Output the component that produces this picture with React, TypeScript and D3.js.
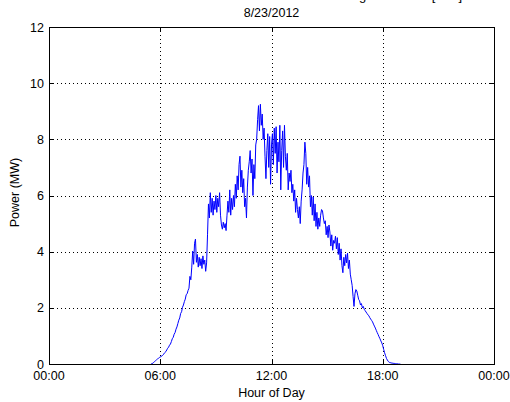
import React from "react";
import * as d3 from "d3";

// Chart text
const titleTop = "Solar Farm Average Net Total [MW]";
const titleDate = "8/23/2012";
const xLabel = "Hour of Day";
const yLabel = "Power (MW)";

// Axis ticks
const xTickHours = [0, 6, 12, 18, 24];
const xTickLabels = ["00:00", "06:00", "12:00", "18:00", "00:00"];
const yTicks = [0, 2, 4, 6, 8, 10, 12];

// Power series: samples every 3 minutes starting at 05:30
const startHour = 5.5;
const stepHours = 0.05;
const powerMW = [
  // 05:30 - 06:00
  0, 0.01, 0.03, 0.06, 0.09, 0.12, 0.15, 0.18, 0.2, 0.23,
  // 06:00 - 07:00
  0.25, 0.27, 0.29, 0.33, 0.36, 0.41, 0.44, 0.5, 0.56, 0.6,
  0.67, 0.71, 0.8, 0.9, 0.95, 1.06, 1.12, 1.24, 1.32, 1.44,
  // 07:00 - 08:00
  1.56, 1.64, 1.8, 1.86, 2.02, 2.1, 2.22, 2.31, 2.47, 2.5,
  2.62, 2.7, 3.12, 3.0, 3.45, 4.02, 3.55, 4.3, 4.45, 3.62,
  // 08:00 - 09:00
  3.9, 3.45, 3.8, 3.5, 3.75, 3.4, 3.85, 3.55, 3.7, 3.3,
  3.6, 4.6, 5.7, 5.2, 6.1, 5.4, 5.9, 5.3, 5.8, 5.5,
  // 09:00 - 10:00
  6.0, 5.4, 5.9, 5.6, 6.1, 5.3, 4.95, 4.8, 5.05, 4.85,
  5.0, 4.75, 5.3, 5.8, 5.4, 6.2, 5.3, 5.9, 5.5, 6.0,
  // 10:00 - 11:00
  5.6, 6.4, 5.9, 6.7, 6.2, 7.1, 7.4, 6.3, 6.9, 6.1,
  6.6, 5.6, 5.9, 5.2, 6.3, 6.9, 7.2, 7.6, 6.8, 7.3,
  // 11:00 - 12:00
  6.0, 7.1, 6.6, 7.8, 8.0, 8.7, 9.2, 8.3, 9.25, 8.5,
  8.9, 8.0, 8.4, 7.4, 6.6, 7.6, 8.2, 7.0, 8.1, 6.4,
  // 12:00 - 13:00
  7.8, 8.2, 7.1, 8.4, 7.5, 8.45, 6.8, 7.9, 7.2, 8.5,
  6.2, 7.6, 8.3, 7.0, 8.5, 7.4, 6.9, 7.5, 6.2, 6.8,
  // 13:00 - 14:00
  6.5, 6.9, 6.1, 6.4, 5.8, 6.2, 5.4, 5.9, 5.5, 5.2,
  5.6, 5.0, 5.8, 6.2, 6.8, 7.1, 7.9, 7.5, 6.4, 7.0,
  // 14:00 - 15:00
  6.3, 6.7, 5.6, 6.0, 5.3, 5.95, 5.1, 5.7, 4.9, 5.4,
  4.8, 5.2, 4.9, 5.3, 5.5, 5.45, 5.2, 5.0, 5.1, 4.6,
  // 15:00 - 16:00
  4.9, 4.5, 4.95, 4.7, 4.2, 4.6, 4.05, 4.4, 4.3, 4.55,
  4.1, 4.5, 3.9, 4.3, 3.7, 4.1, 3.5, 3.25, 3.8, 3.5,
  // 16:00 - 17:00
  3.9, 3.6, 3.95, 3.4, 3.7, 3.2, 3.0, 2.8, 2.4, 2.05,
  2.5, 2.65, 2.6, 2.45, 2.3, 2.25, 2.1, 2.15, 2.0, 2.05,
  // 17:00 - 18:00
  1.95, 1.9, 1.85, 1.8, 1.75, 1.72, 1.65, 1.6, 1.55, 1.5,
  1.42, 1.35, 1.28, 1.2, 1.12, 1.05, 0.97, 0.9, 0.82, 0.75,
  // 18:00 - 19:00
  0.65, 0.52, 0.4, 0.3, 0.2, 0.14, 0.09, 0.06, 0.05, 0.04,
  0.03, 0.03, 0.02, 0.02, 0.01, 0.01, 0.01, 0.0, 0.0, 0.0,
];

const W = 510;
const H = 402;
const left = 49;
const right = 494;
const top = 27;
const bottom = 364;
const font = "'Liberation Sans', Arial, Helvetica, sans-serif";
const fs = 12.5;

export default function App() {
  const x = d3.scaleLinear().domain([0, 24]).range([left, right]);
  const y = d3.scaleLinear().domain([0, 12]).range([bottom, top]);

  const points: [number, number][] = powerMW.map((v, i) => [startHour + i * stepHours, v]);
  const line = d3
    .line<[number, number]>()
    .x((d) => x(d[0]))
    .y((d) => y(d[1]));

  const tickLen = 4;

  return (
    <svg
      width={W}
      height={H}
      style={{ position: "absolute", left: 0, top: 0, background: "#fff", display: "block" }}
    >
      <rect x={0} y={0} width={W} height={H} fill="#fff" />
      {/* upper title, cropped at the top edge as in the source image */}
      <text x={462} y={-0.5} textAnchor="end" fontFamily={font} fontSize={13} fill="#000">
        {titleTop}
      </text>
      <text x={(left + right) / 2} y={17} textAnchor="middle" fontFamily={font} fontSize={fs} fill="#000">
        {titleDate}
      </text>

      {/* grid */}
      <g stroke="#000" strokeWidth={1} strokeDasharray="1,3" fill="none">
        {xTickHours.slice(1, -1).map((h) => (
          <line key={"gx" + h} x1={Math.round(x(h)) + 0.5} x2={Math.round(x(h)) + 0.5} y1={top} y2={bottom} />
        ))}
        {yTicks.slice(1, -1).map((v) => (
          <line key={"gy" + v} x1={left} x2={right} y1={Math.round(y(v)) + 0.5} y2={Math.round(y(v)) + 0.5} />
        ))}
      </g>

      {/* data */}
      <path d={line(points) || ""} fill="none" stroke="#0000ff" strokeWidth={1} strokeLinejoin="round" />

      {/* box */}
      <rect
        x={left + 0.5}
        y={top + 0.5}
        width={right - left}
        height={bottom - top}
        fill="none"
        stroke="#000"
        strokeWidth={1}
      />
      {/* ticks */}
      <g stroke="#000" strokeWidth={1}>
        {xTickHours.map((h, i) => (
          <g key={"tx" + i}>
            <line x1={Math.round(x(h)) + 0.5} x2={Math.round(x(h)) + 0.5} y1={bottom} y2={bottom - tickLen} />
            <line x1={Math.round(x(h)) + 0.5} x2={Math.round(x(h)) + 0.5} y1={top} y2={top + tickLen} />
          </g>
        ))}
        {yTicks.map((v) => (
          <g key={"ty" + v}>
            <line x1={left} x2={left + tickLen} y1={Math.round(y(v)) + 0.5} y2={Math.round(y(v)) + 0.5} />
            <line x1={right} x2={right - tickLen} y1={Math.round(y(v)) + 0.5} y2={Math.round(y(v)) + 0.5} />
          </g>
        ))}
      </g>

      {/* tick labels */}
      <g fontFamily={font} fontSize={fs} fill="#000">
        {xTickHours.map((h, i) => (
          <text key={"lx" + i} x={x(h)} y={bottom + 16} textAnchor="middle">
            {xTickLabels[i]}
          </text>
        ))}
        {yTicks.map((v) => (
          <text key={"ly" + v} x={left - 5} y={y(v) + 4.5} textAnchor="end">
            {v}
          </text>
        ))}
      </g>

      {/* axis labels */}
      <text x={(left + right) / 2} y={397} textAnchor="middle" fontFamily={font} fontSize={fs} fill="#000">
        {xLabel}
      </text>
      <text
        transform={`translate(19, ${(top + bottom) / 2 - 3}) rotate(-90)`}
        textAnchor="middle"
        fontFamily={font}
        fontSize={fs}
        fill="#000"
      >
        {yLabel}
      </text>
    </svg>
  );
}
